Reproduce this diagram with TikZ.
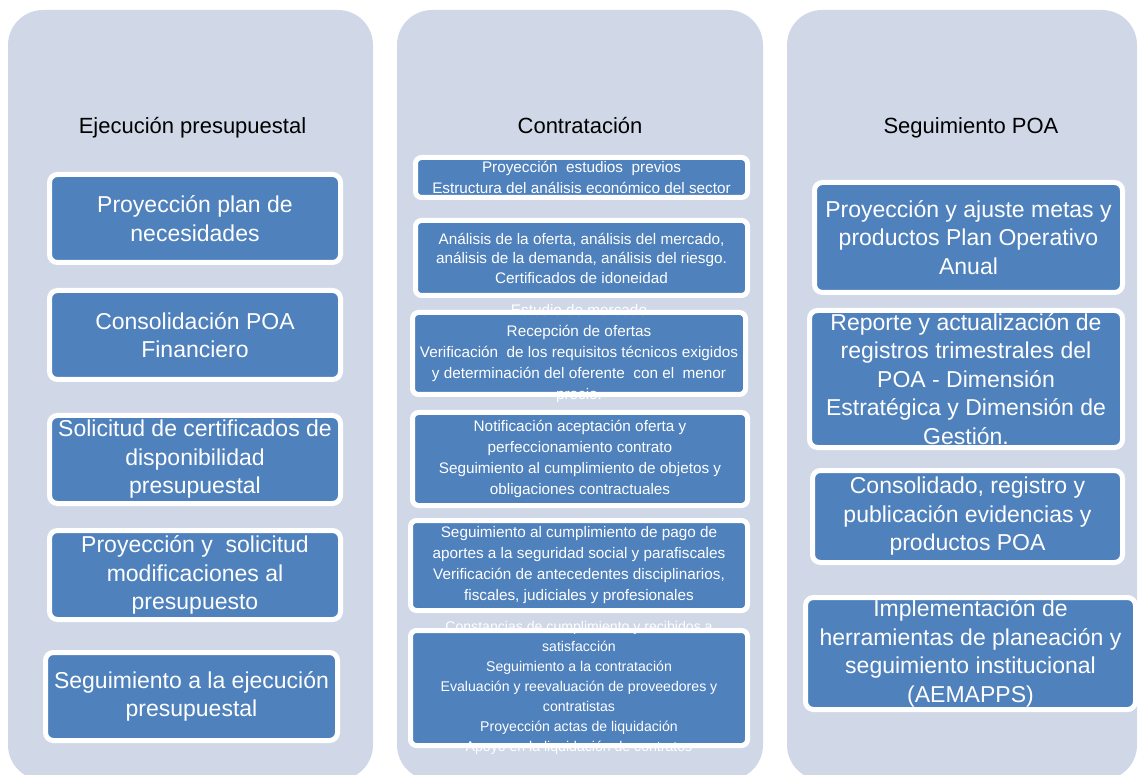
\documentclass[tikz,border=0pt]{standalone}
\usepackage{fontspec}
\setmainfont{Liberation Sans}
\definecolor{PanelGray}{RGB}{208,216,232}
\definecolor{TaskBlue}{RGB}{79,129,189}
\usetikzlibrary{positioning}

\begin{document}
\begin{tikzpicture}[x=1pt, y=-1pt,
      every node/.style={align=center},
      panel/.style={fill=PanelGray, rounded corners=35pt, minimum height=770pt,
                    inner sep=0pt, outer sep=0pt},
      titulo/.style={font=\fontsize{22}{26}\selectfont, text=black, anchor=base},
      tarea/.style={draw=white, line width=5pt, fill=TaskBlue, rounded corners=8pt,
                    text=white, inner sep=-20pt, outer sep=0pt,
                    font=\fontsize{23}{28.5}\selectfont},
      tarea2/.style={tarea, rounded corners=6pt, font=\fontsize{15.3}{21}\selectfont}
  ]
    \clip (0,0) rectangle (1138,775);
    \node[panel, minimum width=365pt] (pe) at (190.5,395) {};
    \node[panel, minimum width=366pt] (pc) at (580,395) {};
    \node[panel, minimum width=350pt] (ps) at (962,395) {};

    \node[titulo] (te) at (192.5,134) {Ejecución presupuestal};
    \node[titulo] (tc) at (580,134) {Contratación};
    \node[titulo] (ts) at (971,134) {Seguimiento POA};

    \node[tarea, minimum width=291pt, minimum height=88pt] (e1) at (195,218.5) {Proyección plan de\\necesidades};
    \node[tarea, minimum width=291pt, minimum height=89pt, below=28pt of e1] (e2) {Consolidación POA\\Financiero};
    \node[tarea, minimum width=291pt, minimum height=88pt, below=36pt of e2] (e3) {Solicitud de certificados de\\disponibilidad\\presupuestal};
    \node[tarea, minimum width=291pt, minimum height=89pt, below=27pt of e3] (e4) {Proyección y~ solicitud\\modificaciones al\\presupuesto};
    \node[tarea, minimum width=292pt, minimum height=88pt, below=33pt of e4, xshift=-3.5pt] (e5) {Seguimiento a la ejecución\\presupuestal};

    \node[tarea2, minimum width=332pt, minimum height=40pt] (c1) at (581.5,177.5) {Proyección~ estudios~ previos\\Estructura del análisis económico del sector};
    \node[tarea2, minimum width=332pt, minimum height=75pt, font=\fontsize{15.3}{19.5}\selectfont, below=23pt of c1] (c2) {Análisis de la oferta, análisis del mercado,\\análisis de la demanda, análisis del riesgo.\\Certificados de idoneidad};
    \node[tarea2, minimum width=333pt, minimum height=82pt, below=17pt of c2, xshift=-2.5pt] (c3) {Estudio de mercado\\Recepción de ofertas\\Verificación~ de los requisitos técnicos exigidos\\y determinación del oferente~ con el~ menor\\precio.};
    \node[tarea2, minimum width=335pt, minimum height=93pt, below=18pt of c3, xshift=1pt] (c4) {Notificación aceptación oferta y\\perfeccionamiento contrato\\Seguimiento al cumplimiento de objetos y\\obligaciones contractuales};
    \node[tarea2, minimum width=337pt, minimum height=90pt, below=15pt of c4, xshift=-1pt] (c5) {Seguimiento al cumplimiento de pago de\\aportes a la seguridad social y parafiscales\\Verificación de antecedentes disciplinarios,\\fiscales, judiciales y profesionales};
    \node[tarea2, minimum width=337pt, minimum height=115pt, font=\fontsize{14.1}{20}\selectfont, below=20pt of c5] (c6) {Constancias de cumplimiento y recibidos a\\satisfacción\\Seguimiento a la contratación\\Evaluación y reevaluación de proveedores y\\contratistas\\Proyección actas de liquidación\\Apoyo en la liquidación de contratos};

    \node[tarea, minimum width=308pt, minimum height=110pt] (s1) at (968.5,237.5) {Proyección y ajuste metas y\\productos Plan Operativo\\Anual};
    \node[tarea, minimum width=313pt, minimum height=137pt, below=18pt of s1, xshift=-2.5pt] (s2) {Reporte y actualización de\\registros trimestrales del\\POA - Dimensión\\Estratégica y Dimensión de\\Gestión.};
    \node[tarea, minimum width=310pt, minimum height=92pt, below=23pt of s2, xshift=1.5pt] (s3) {Consolidado, registro y\\publicación evidencias y\\productos POA};
    \node[tarea, minimum width=330pt, minimum height=112pt, below=35pt of s3, xshift=3pt] (s4) {Implementación de\\herramientas de planeación y\\seguimiento institucional\\(AEMAPPS)};
  \end{tikzpicture}
\end{document}
